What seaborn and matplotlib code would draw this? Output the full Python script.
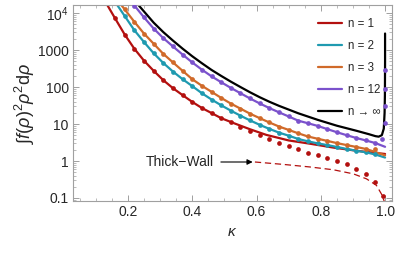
import matplotlib
matplotlib.use("Agg")
import matplotlib.pyplot as plt
import matplotlib.ticker as mticker
import seaborn as sns
import pandas as pd

sns.set_style("ticks")
plt.rcParams['font.family'] = ['Liberation Sans', 'DejaVu Sans']
plt.rcParams['mathtext.fontset'] = 'custom'
plt.rcParams['mathtext.rm'] = 'Liberation Sans'
plt.rcParams['mathtext.it'] = 'Liberation Sans:italic'

# ---- values ----
dot_k1 = [0.16, 0.19, 0.22, 0.25, 0.28, 0.31, 0.34, 0.37, 0.40, 0.43, 0.46, 0.49, 0.52, 0.55,
          0.58, 0.61, 0.64, 0.67, 0.70, 0.73, 0.76, 0.79, 0.82, 0.85, 0.88, 0.91, 0.94, 0.97, 0.995]
dot_n1 = [7160, 2610, 1080, 515, 274, 153, 93, 60.4, 39.6, 27.1, 19.8, 14.4, 11.0, 8.38,
          6.51, 4.9, 3.86, 3.15, 2.58, 2.09, 1.69, 1.43, 1.19, 1.0, 0.81, 0.62, 0.45, 0.27, 0.115]

line_k1 = [0.13, 0.16, 0.19, 0.22, 0.25, 0.28, 0.31, 0.34, 0.37, 0.40, 0.43, 0.46, 0.49,
           0.53, 0.58, 0.63, 0.70, 0.77, 0.84, 0.92, 1.0]
line_n1 = [20000, 7160, 2610, 1080, 515, 274, 153, 93, 60.4, 39.6, 27.1, 19.8, 14.4,
           10.5, 7.2, 5.1, 3.6, 2.9, 2.3, 1.85, 1.55]

dot_k2 = [0.19, 0.22, 0.25, 0.28, 0.31, 0.34, 0.37, 0.40, 0.43, 0.46, 0.49, 0.52, 0.55, 0.58,
          0.61, 0.64, 0.67, 0.70, 0.73, 0.76, 0.79, 0.82, 0.85, 0.88, 0.91, 0.94, 0.97]
dot_n2 = [8280, 3420, 1640, 817, 446, 262, 163, 106, 68, 46.0, 32.1, 23.0, 16.8, 12.5,
          9.5, 7.38, 5.85, 4.84, 3.94, 3.4, 3.0, 2.7, 2.4, 2.12, 1.9, 1.72, 1.5]
line_k2 = [0.16] + dot_k2 + [1.0]
line_n2 = [20000] + dot_n2 + [1.24]

dot_k3 = [0.19, 0.22, 0.25, 0.28, 0.31, 0.34, 0.37, 0.40, 0.43, 0.46, 0.49, 0.52, 0.55, 0.58,
          0.61, 0.64, 0.67, 0.70, 0.73, 0.76, 0.79, 0.82, 0.85, 0.88, 0.91, 0.94, 0.97]
dot_n3 = [12500, 5780, 2780, 1480, 787, 463, 274, 163, 108, 74.3, 50.9, 35.7, 26.1, 19.0,
          14.4, 11.0, 8.55, 6.93, 5.6, 4.6, 4.0, 3.5, 3.05, 2.7, 2.4, 2.12, 2.05]
line_k3 = [0.16] + dot_k3[:-1] + [0.97, 1.0]
line_n3 = [27000] + dot_n3[:-1] + [1.75, 1.42]

dot_k12 = [0.22, 0.25, 0.28, 0.31, 0.34, 0.37, 0.40, 0.43, 0.46, 0.49, 0.52, 0.55, 0.58,
           0.61, 0.64, 0.67, 0.70, 0.73, 0.76, 0.79, 0.82, 0.85, 0.88, 0.91, 0.94, 0.97]
dot_n12 = [16000, 7620, 3810, 2100, 1250, 753, 463, 295, 195, 135, 95, 68, 49,
           36, 27, 20.7, 16, 12.3, 10.5, 8.9, 7.3, 6.0, 5.0, 4.2, 3.6, 3.05]
line_k12 = [0.19] + dot_k12 + [1.0]
line_n12 = [34000] + dot_n12 + [2.42]
edge_k12 = [0.992, 1.0, 1.0, 1.0, 1.0]
edge_n12 = [3.9, 10.5, 30, 87, 280]

line_kinf = [0.22, 0.25, 0.28, 0.31, 0.34, 0.37, 0.40, 0.43, 0.46, 0.49, 0.52, 0.55, 0.58,
             0.61, 0.64, 0.67, 0.73, 0.79, 0.85, 0.91, 0.95, 0.97, 0.98, 0.99, 0.996,
             0.9985, 0.9995, 1.0, 1.0]
line_ninf = [22000, 11000, 5500, 3050, 1800, 1090, 680, 440, 290, 200, 140, 100, 72,
             53, 40, 31, 19.5, 13, 9, 6.6, 5.3, 4.7, 4.55, 5.0, 7.5,
             20, 60, 500, 2800]

thick_k = [0.595, 0.683, 0.766, 0.839, 0.901, 0.942, 0.973, 0.989, 0.999, 1.0]
thick_v = [0.94, 0.81, 0.69, 0.58, 0.45, 0.33, 0.22, 0.127, 0.075, 0.05]

labels = ["n = 1", "n = 2", "n = 3", "n = 12", "n \u2192 \u221e"]
colors = ["#b3100f", "#1f9ab0", "#d06a2a", "#7b52cc", "black"]

fig = plt.figure(figsize=(3.99, 2.59), dpi=100)
ax = fig.add_axes([0.183, 0.224, 0.799, 0.757])

lines = [(line_k1, line_n1), (line_k2, line_n2), (line_k3, line_n3),
         (line_k12, line_n12), (line_kinf, line_ninf)]
for (k, v), lab, c in zip(lines, labels, colors):
    df = pd.DataFrame({"k": k, "v": v})
    sns.lineplot(data=df, x="k", y="v", ax=ax, color=c, lw=1.6, label=lab,
                 sort=False, estimator=None)

dots = [(dot_k1, dot_n1), (dot_k2, dot_n2), (dot_k3, dot_n3), (dot_k12, dot_n12),
        (edge_k12, edge_n12)]
dot_colors = colors[:4] + [colors[3]]
for (k, v), c in zip(dots, dot_colors):
    ax.plot(k, v, 'o', color=c, ms=3.4, mew=0, zorder=3)

ax.plot(thick_k, thick_v, '--', color=colors[0], lw=0.9, dashes=(5, 3))
ax.annotate("Thick\u2212Wall", xy=(0.588, 0.94), xytext=(0.36, 0.94),
            ha='center', va='center', fontsize=10,
            arrowprops=dict(arrowstyle='-|>', color='black', lw=0.8,
                            mutation_scale=8, shrinkA=3, shrinkB=0))

ax.set_yscale('log')
ax.set_xlim(0.029, 1.021)
ax.set_ylim(0.083, 16600)
ax.set_yticks([0.1, 1, 10, 100, 1000, 1e4])
ax.set_yticklabels(['0.1', '1', '10', '100', '1000', r'$10^4$'])
ax.yaxis.set_minor_locator(mticker.LogLocator(base=10, subs=range(2, 10), numticks=20))
ax.yaxis.set_minor_formatter(mticker.NullFormatter())
ax.set_xticks([0.2, 0.4, 0.6, 0.8, 1.0])
ax.set_xticklabels(['0.2', '0.4', '0.6', '0.8', '1.0'])
ax.xaxis.set_minor_locator(mticker.MultipleLocator(0.05))

for s in ax.spines.values():
    s.set_color('#a0a0a0')
    s.set_linewidth(0.8)
ax.tick_params(which='both', direction='in', top=True, right=True, color='#a0a0a0',
               labelsize=10, pad=3)
ax.tick_params(which='major', length=4, width=0.7)
ax.tick_params(which='minor', length=2, width=0.5)

ax.set_xlabel(r'$\kappa$', fontsize=11, labelpad=4)
ax.set_ylabel(r'$\int f(\rho)^2\rho^2\mathrm{d}\rho$', fontsize=13, labelpad=1)

ax.legend(loc='upper left', bbox_to_anchor=(0.77, 0.935), frameon=False, fontsize=8.3,
          handlelength=2.0, handletextpad=0.6, labelspacing=0.88, borderpad=0,
          borderaxespad=0)

fig.savefig("out.png", dpi=100)
